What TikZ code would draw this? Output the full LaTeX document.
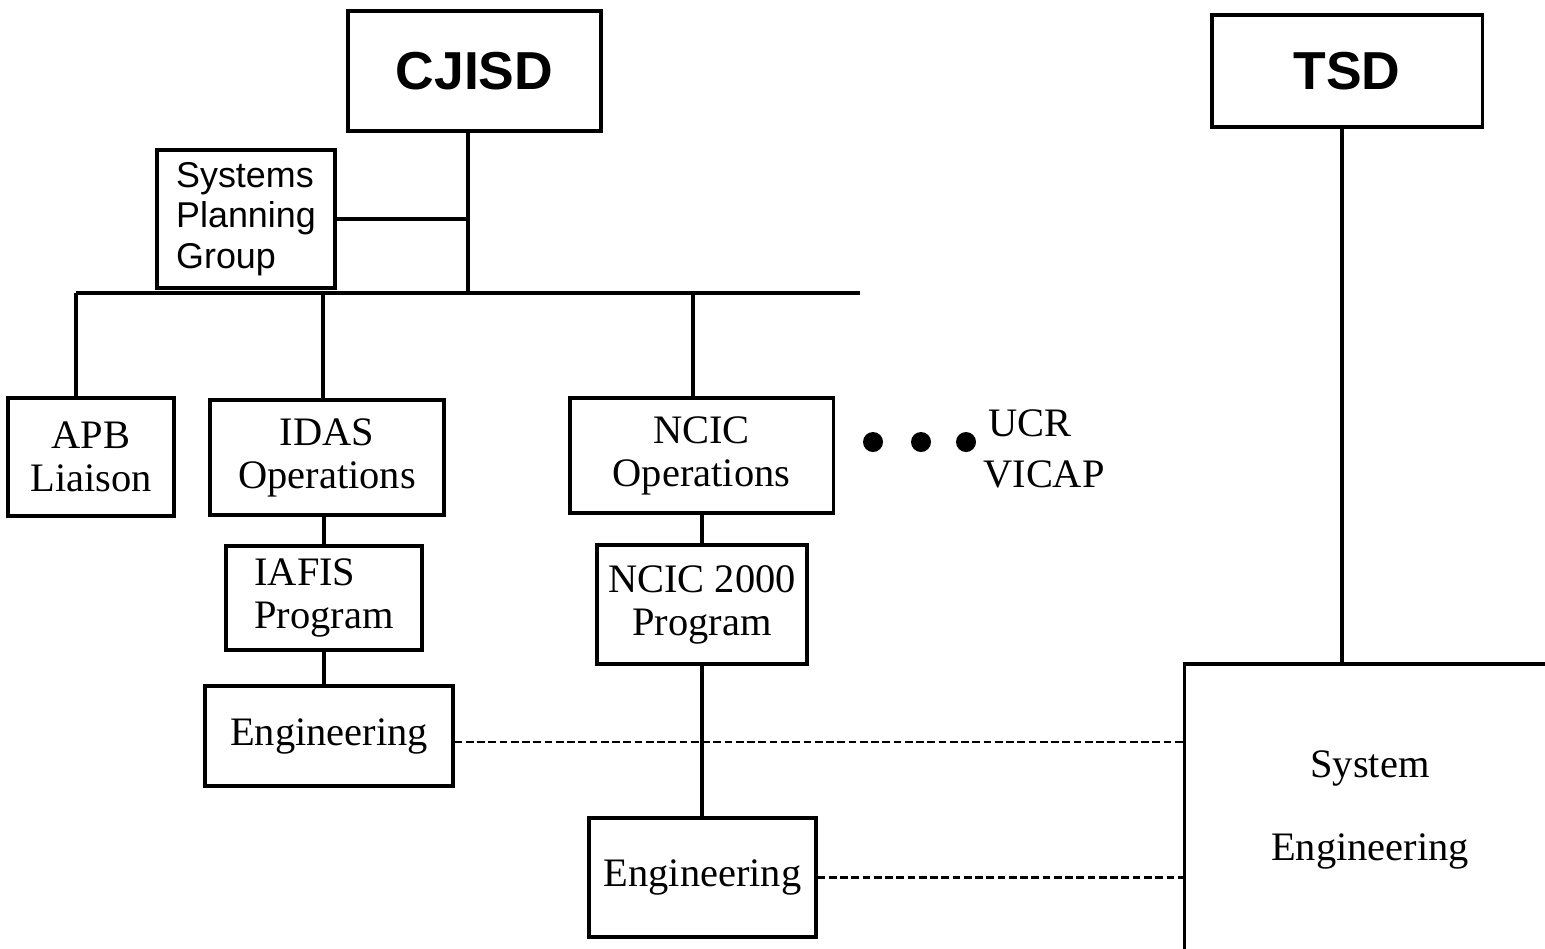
\documentclass[tikz,border=0pt]{standalone}
\usepackage{fontspec}
\setmainfont{Liberation Serif}
\newfontfamily\hsans{Liberation Sans}
\begin{document}
\begin{tikzpicture}[x=0.01cm,y=-0.01cm,
  box/.style={draw, line width=0.9pt, inner sep=0pt, align=center, font=\fontsize{11.5}{12.2}\selectfont},
  headbox/.style={box, font=\hsans\bfseries\fontsize{15.2}{18}\selectfont},
  conn/.style={line width=0.9pt},
  dashconn/.style={line width=0.75pt, dash pattern=on 2.2pt off 1pt},
  dot/.style={circle, fill, inner sep=0pt, minimum size=0.2cm}]
\useasboundingbox (0,0) rectangle (1545,948);
\clip (0,0) rectangle (1545,948);

% nodes
\node[headbox, minimum width=2.53cm, minimum height=1.20cm] (cjisd) at (474.5,71) {CJISD};
\node[headbox, minimum width=2.70cm, minimum height=1.12cm] (tsd) at (1347,71) {TSD};
\node[box, minimum width=1.78cm, minimum height=1.38cm, align=left, font=\hsans\fontsize{10.2}{11.5}\selectfont] (spg) at (246,219) {Systems\\Planning\\Group};
\node[box, minimum width=1.66cm, minimum height=1.18cm] (apb) at (91,457) {APB\\Liaison};
\node[box, minimum width=2.34cm, minimum height=1.15cm] (idas) at (327,457.5) {IDAS\\Operations};
\node[box, minimum width=2.63cm, minimum height=1.15cm] (ncicops) at (701.5,455.5) {NCIC\\Operations};
\node[box, minimum width=1.96cm, minimum height=1.04cm, align=left] (iafis) at (324,598) {IAFIS\\Program};
\node[box, minimum width=2.48cm, minimum height=1.00cm] (eng1) at (329,736) {Engineering};
\node[box, minimum width=2.10cm, minimum height=1.19cm] (ncicprog) at (702,604.5) {NCIC 2000\\Program};
\node[box, minimum width=2.27cm, minimum height=1.19cm] (eng2) at (702.5,877.5) {Engineering};
\node[box, minimum width=3.70cm, minimum height=2.92cm] (syseng) at (1370,810) {System\\[11.5pt]Engineering};

\node[dot] (d1) at (873,442) {};
\node[dot] (d2) at (921,442) {};
\node[dot] (d3) at (966,442) {};
\node[align=left, inner sep=0pt, font=\fontsize{11.5}{14.5}\selectfont] (others) at (1044,449) {\hspace*{0.05cm}UCR\\VICAP};

% connectors
\coordinate (busR) at (860,293);
\coordinate (cj) at ([xshift=-0.065cm]cjisd.south);
\coordinate (a1) at ([xshift=-0.15cm]apb.north);
\coordinate (i1) at ([xshift=-0.04cm]idas.north);
\coordinate (n1) at ([xshift=-0.085cm]ncicops.north);
\coordinate (e1) at ([yshift=-0.06cm]eng1.east);

\draw[conn] (cj) -- (cj |- busR);
\draw[conn] (spg.east) -- (spg.east -| cj);
\draw[conn] (a1 |- busR) -- (busR);
\draw[conn] (a1) -- (a1 |- busR);
\draw[conn] (i1) -- (i1 |- busR);
\draw[conn] (n1) -- (n1 |- busR);
\draw[conn] (iafis.north) -- (iafis.north |- idas.south);
\draw[conn] (iafis.south) -- (iafis.south |- eng1.north);
\draw[conn] (ncicprog.north) -- (ncicprog.north |- ncicops.south);
\draw[conn] (ncicprog.south) -- (ncicprog.south |- eng2.north);
\draw[conn] ([xshift=-0.05cm]tsd.south) -- ([xshift=-0.05cm]tsd.south |- syseng.north);
\draw[dashconn] (e1) -- (e1 -| syseng.west);
\draw[dashconn] (eng2.east) -- (eng2.east -| syseng.west);
\end{tikzpicture}
\end{document}
